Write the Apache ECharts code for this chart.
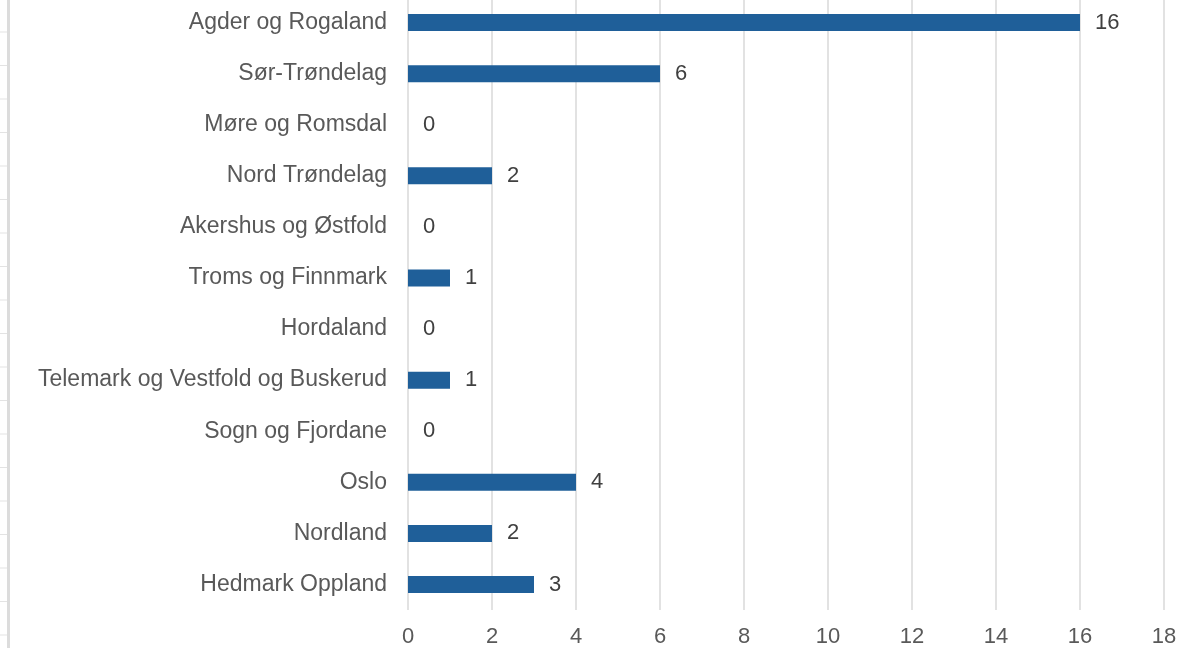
<!DOCTYPE html>
<html>
<head>
<meta charset="utf-8">
<script src="https://cdn.jsdelivr.net/npm/echarts@6/dist/echarts.min.js"></script>
<style>html,body{margin:0;padding:0;background:#fff}#c{width:1198px;height:648px}</style>
</head>
<body>
<div id="c"></div>
<script>
var categories = ["Agder og Rogaland","Sør-Trøndelag","Møre og Romsdal","Nord Trøndelag","Akershus og Østfold","Troms og Finnmark","Hordaland","Telemark og Vestfold og Buskerud","Sogn og Fjordane","Oslo","Nordland","Hedmark Oppland"];
var values = [16, 6, 0, 2, 0, 1, 0, 1, 0, 4, 2, 3];
var xMin = 0, xMax = 18, xStep = 2;

var FONT = 'Liberation Sans, Arial, sans-serif';
var chart = echarts.init(document.getElementById('c'), null, {renderer: 'canvas'});
var deco = [];
for (var i = 0; i < 19; i++) {
  deco.push({type: 'line', shape: {x1: 0, y1: 32 + i * 33.5, x2: 8, y2: 32 + i * 33.5}, style: {stroke: '#e3e3e3', lineWidth: 1}, silent: true});
}
deco.push({type: 'line', shape: {x1: 8.5, y1: 0, x2: 8.5, y2: 648}, style: {stroke: '#dcdcdc', lineWidth: 3}, silent: true});

chart.setOption({
  animation: false,
  graphic: deco,
  grid: {left: 408, right: 34, top: -3, height: 613, containLabel: false, outerBoundsMode: 'none'},
  xAxis: {
    type: 'value', min: xMin, max: xMax, interval: xStep,
    axisLine: {show: false}, axisTick: {show: false},
    splitLine: {show: true, lineStyle: {color: '#d9d9d9', width: 1.5}},
    axisLabel: {color: '#595959', fontSize: 22, fontFamily: FONT, margin: 16}
  },
  yAxis: {
    type: 'category', data: categories, inverse: true,
    axisLine: {show: false}, axisTick: {show: false},
    axisLabel: {color: '#595959', fontSize: 23, fontFamily: FONT, margin: 21}
  },
  series: [{
    type: 'bar', data: values, barWidth: 17,
    itemStyle: {color: '#1f5f99'},
    label: {show: true, position: 'right', distance: 15, color: '#404040', fontSize: 22, fontFamily: FONT}
  }]
});
</script>
</body>
</html>
